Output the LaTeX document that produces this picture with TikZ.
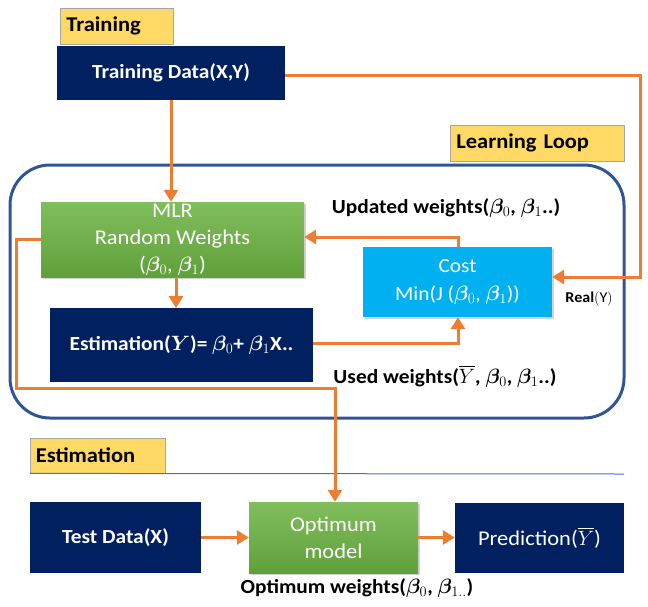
\documentclass[tikz,border=0pt]{standalone}
\usepackage{fontspec}
\setmainfont{Carlito}[FakeStretch=1.07]
\usepackage{amsmath,bm}
\usetikzlibrary{arrows.meta,shadows}
\definecolor{navy}{RGB}{0,32,96}
\definecolor{gtop}{RGB}{128,190,92}
\definecolor{gbot}{RGB}{96,160,58}
\definecolor{cyanbox}{RGB}{0,176,240}
\definecolor{ylw}{RGB}{255,217,102}
\definecolor{orng}{RGB}{237,125,49}
\definecolor{loopblue}{RGB}{47,85,151}
\definecolor{sepblue}{RGB}{68,114,196}
\tikzset{
  navybox/.style={rectangle, fill=navy, text=white, font=\fontsize{20}{24}\selectfont\bfseries, align=center, inner sep=0pt},
  greenbox/.style={rectangle, top color=gtop, bottom color=gbot, text=white, font=\fontsize{21}{27}\selectfont, align=center, inner sep=0pt, drop shadow={shadow xshift=1.5pt, shadow yshift=-1.5pt, opacity=0.35}},
  cyanbox/.style={rectangle, fill=cyanbox, text=white, font=\fontsize{20}{28}\selectfont, align=center, inner sep=0pt, drop shadow={shadow xshift=1.5pt, shadow yshift=-1.5pt, opacity=0.35}},
  tag/.style={rectangle, fill=ylw, draw=gray!70, line width=0.8pt, font=\fontsize{21}{24}\selectfont\bfseries, text=black, anchor=west, inner sep=0pt},
  wlabel/.style={font=\fontsize{20}{24}\selectfont\bfseries, text=black, inner sep=0pt},
  conn/.style={draw=orng, line width=3pt, -{Triangle[length=12pt,width=14pt]}}
}
\begin{document}
\begin{tikzpicture}[x=1pt,y=-1pt]
\useasboundingbox (0,0) rectangle (648,606);
% loop frame
\draw[loopblue, line width=3pt, rounded corners=40pt] (10,165) rectangle (624,418);
% tags
\node[tag, minimum width=113pt, minimum height=36pt, text width=101pt] (trl) at (60,26) {Training};
\node[tag, minimum width=174pt, minimum height=36pt, text width=162pt] (ll) at (450,143) {Learning Loop};
\node[tag, minimum width=135pt, minimum height=35pt, text width=124pt] (estl) at (30,455.5) {Estimation};
\draw[sepblue, line width=1pt] (estl.south west) -- (624,474);
% boxes
\node[navybox, minimum width=228pt, minimum height=54pt] (trd) at (171,73) {Training Data(X,Y)};
\node[greenbox, minimum width=263pt, minimum height=75pt] (mlr) at (172.5,239.5) {MLR\\Random Weights\\($\boldsymbol{\beta}_0$, $\boldsymbol{\beta}_1$)};
\node[navybox, minimum width=263pt, minimum height=74pt] (est) at (181.5,345) {Estimation($\boldsymbol{Y}$)= $\boldsymbol{\beta}_0$+ $\boldsymbol{\beta}_1$X..};
\node[cyanbox, minimum width=189pt, minimum height=70pt] (cost) at (457.5,282) {Cost\\Min(J ($\boldsymbol{\beta}_0$, $\boldsymbol{\beta}_1$))};
\node[navybox, minimum width=171pt, minimum height=71pt] (test) at (115.5,537.5) {Test Data(X)};
\node[greenbox, minimum width=169pt, minimum height=71pt] (opt) at (333.5,537.5) {Optimum\\model};
\node[navybox, font=\fontsize{21}{24}\selectfont, minimum width=169pt, minimum height=70pt] (pred) at (539.5,537.5) {Prediction($\overline{Y}$)};
% labels
\node[wlabel] (upd) at (446,208) {Updated weights($\boldsymbol{\beta}_0$, $\boldsymbol{\beta}_1$..)};
\node[wlabel] (used) at (445,376) {Used weights($\overline{Y}$, $\boldsymbol{\beta}_0$, $\boldsymbol{\beta}_1$..)};
\node[font=\fontsize{15}{18}\selectfont\bfseries, inner sep=0pt] (real) at (589,299) {Real$(\mathrm{Y})$};
\node[wlabel] (optw) at (357,588) {Optimum weights($\boldsymbol{\beta}_0$, $\boldsymbol{\beta}_{1..}$)};
% coordinates
\coordinate (c1) at (640,75);
\coordinate (c2) at (640,277);
\coordinate (c3) at (458,237);
\coordinate (c4) at (458,343);
\coordinate (c5) at (16,239);
\coordinate (c6) at (16,388);
\coordinate (c7) at (335,388);
% connectors
\draw[conn] (trd.south) -- (trd.south |- mlr.north);
\draw[conn] (trd.east |- c1) -- (c1) -- (c2) -- (cost.east |- c2);
\draw[conn] (176,277) -- (176,308);
\draw[conn] (cost.north -| c3) -- (c3) -- (mlr.east |- c3);
\draw[conn] (est.east |- c4) -- (c4) -- (cost.south -| c4);
\draw[conn] (mlr.west |- c5) -- (c5) -- (c6) -- (c7) -- (opt.north -| c7);
\draw[conn] (test.east) -- (opt.west);
\draw[conn] (opt.east) -- (pred.west);
\end{tikzpicture}
\end{document}
